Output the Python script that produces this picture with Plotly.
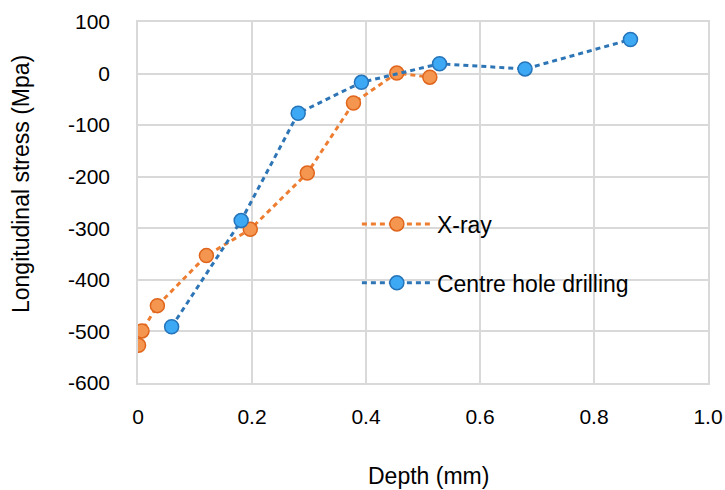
import plotly.graph_objects as go

# Data
xray_depth = [0.001, 0.007, 0.034, 0.12, 0.197, 0.297, 0.378, 0.454, 0.512]
xray_stress = [-527, -499, -450, -353, -302, -193, -57, 1, -7]

chd_depth = [0.059, 0.181, 0.281, 0.392, 0.529, 0.679, 0.864]
chd_stress = [-491, -285, -77, -17, 19, 9, 66]

x_ticks = [0, 0.2, 0.4, 0.6, 0.8, 1.0]
x_ticktext = ["0", "0.2", "0.4", "0.6", "0.8", "1.0"]
y_ticks = [100, 0, -100, -200, -300, -400, -500, -600]
y_ticktext = ["100", "0", "-100", "-200", "-300", "-400", "-500", "-600"]

FONT = "Liberation Sans, Arial, sans-serif"
GRID = "#d9d9d9"

fig = go.Figure()
fig.add_trace(go.Scatter(
    x=xray_depth, y=xray_stress, name="X-ray", mode="lines+markers",
    legendgroup="a",
    line=dict(color="#ED7D31", width=3, dash="5px,4px"),
    marker=dict(size=14, color="#F4964F", line=dict(color="#E0651C", width=1.5)),
))
fig.add_trace(go.Scatter(
    x=chd_depth, y=chd_stress, name="Centre hole drilling", mode="lines+markers",
    legendgroup="b",
    line=dict(color="#2E75B6", width=3, dash="5px,4px"),
    marker=dict(size=14, color="#3DA9F5", line=dict(color="#2574BA", width=1.5)),
))

fig.update_layout(
    autosize=False,
    width=725, height=490,
    margin=dict(l=138, r=17, t=22, b=107),
    paper_bgcolor="white", plot_bgcolor="white",
    font=dict(family=FONT, size=21, color="#000"),
    showlegend=True,
    legend=dict(
        x=0.384, y=0.5, xanchor="left", yanchor="top",
        bgcolor="rgba(0,0,0,0)", font=dict(size=23, family=FONT),
        tracegroupgap=26, itemwidth=70,
    ),
    xaxis=dict(
        range=[0, 1], tickvals=x_ticks, ticktext=x_ticktext,
        showgrid=True, gridcolor=GRID, gridwidth=1.5, zeroline=False,
        showline=True, linecolor=GRID, linewidth=1.5, mirror=True,
        ticks="outside", ticklen=14, tickcolor="rgba(0,0,0,0)",
        tickfont=dict(size=21, family=FONT), automargin=False,
    ),
    yaxis=dict(
        range=[-600, 100], tickvals=y_ticks, ticktext=y_ticktext,
        showgrid=True, gridcolor=GRID, gridwidth=1.5, zeroline=False,
        showline=True, linecolor=GRID, linewidth=1.5, mirror=True,
        ticks="outside", ticklen=22, tickcolor="rgba(0,0,0,0)",
        tickfont=dict(size=21, family=FONT), automargin=False,
    ),
    annotations=[
        dict(text="Depth (mm)", xref="paper", yref="paper",
             x=(428 - 138) / 570, y=-(476 - 383) / 361,
             xanchor="center", yanchor="middle", showarrow=False,
             font=dict(size=23, family=FONT)),
        dict(text="Longitudinal stress (Mpa)", xref="paper", yref="paper",
             x=-(138 - 21) / 570, y=(383 - 184) / 361, textangle=-90,
             xanchor="center", yanchor="middle", showarrow=False,
             font=dict(size=23, family=FONT)),
    ],
)

fig.write_html(
    "out.html",
    config={"displayModeBar": False, "responsive": False},
    post_script="document.body.style.margin='0';document.body.style.overflow='hidden';",
)
